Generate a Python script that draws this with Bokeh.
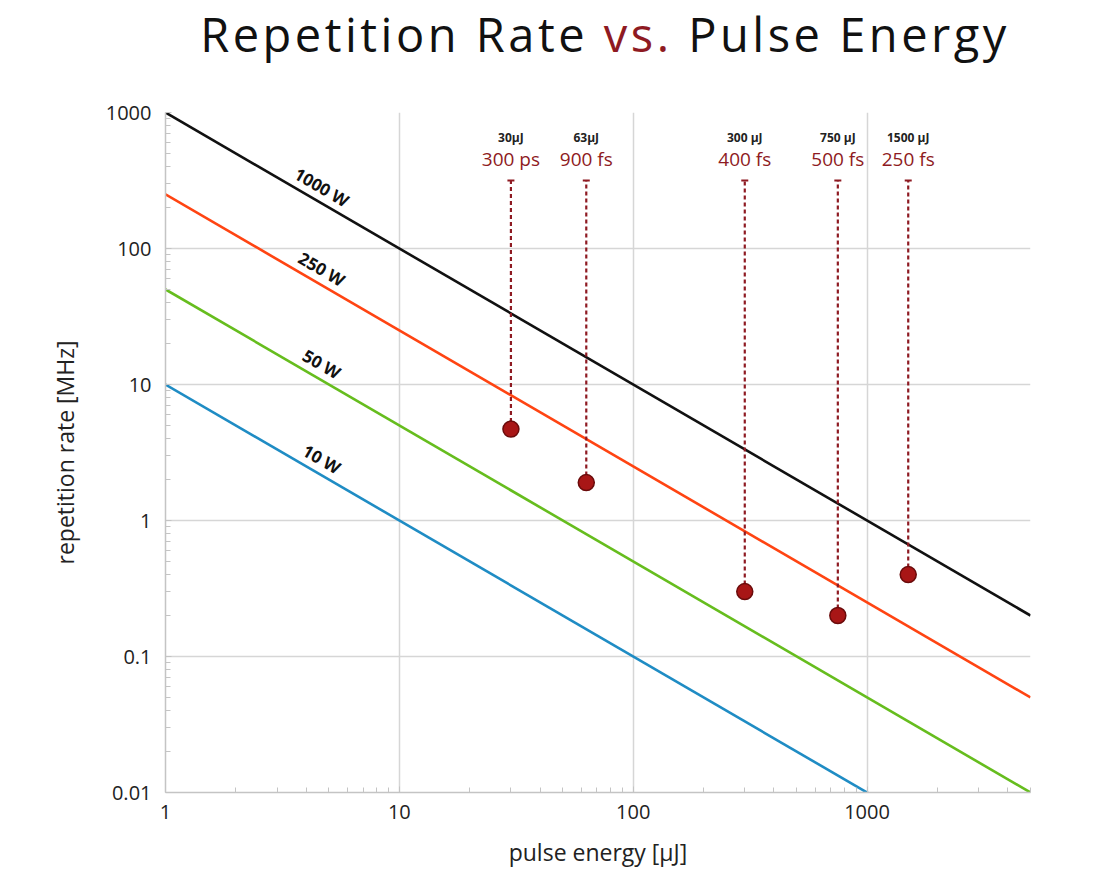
import numpy as np
from bokeh.plotting import figure
from bokeh.layouts import column
from bokeh.models import (ColumnDataSource, FixedTicker, CustomJSTickFormatter,
                          Div, Range1d)
from bokeh.core.properties import value
from bokeh.embed import file_html
from bokeh.resources import INLINE

# ---------------- data ----------------
powers = [1000, 250, 50, 10]                       # W  (line: rate = P / E)
power_labels = ["1000 W", "250 W", "50 W", "10 W"]
power_colors = ["#111111", "#ff4412", "#66bd1e", "#1f8cc4"]
energy_span = [1, 5000]                             # µJ

pulse_energy = [30, 63, 300, 750, 1500]             # µJ
rep_rate = [4.7, 1.9, 0.3, 0.2, 0.4]                # MHz
energy_text = ["30µJ", "63µJ", "300 µJ", "750 µJ", "1500 µJ"]
duration_text = ["300 ps", "900 fs", "400 fs", "500 fs", "250 fs"]

x_ticks = [1, 10, 100, 1000]
y_ticks = [0.01, 0.1, 1, 10, 100, 1000]

# ---------------- layout constants ----------------
W = 1100
DIV_H = 60             # plus 10px default widget margin
H = 800
BL, BR = 165, 70
BT = 112 - (DIV_H + 10)
BB = (DIV_H + 10 + H) - 792
LABEL_X = 4.4          # µJ position of the power labels
ARROW_TOP = 316        # MHz, top of the dashed drop lines
DARK_RED = "#8e1a22"
FONT = "Open Sans"

title = Div(
    text=('<div style="font-family:\'Open Sans\'; font-size:47px; '
          'letter-spacing:3.5px; color:#111; text-align:center; '
          'width:%dpx; line-height:56px; padding-top:1px; white-space:nowrap;">'
          'Repetition Rate <span style="color:%s">vs.</span> Pulse Energy'
          '</div>') % (W + 100, DARK_RED),
    width=W, height=DIV_H)

p = figure(width=W, height=H, x_axis_type="log", y_axis_type="log",
           x_range=Range1d(1, 5000), y_range=Range1d(0.01, 1000),
           output_backend="svg", toolbar_location=None,
           min_border_left=BL, min_border_right=BR,
           min_border_top=BT, min_border_bottom=BB)
p.background_fill_color = "white"
p.border_fill_color = "white"
p.outline_line_color = None

# grid
for g in (p.xgrid, p.ygrid):
    g.grid_line_color = "#d6d6d6"
    g.grid_line_width = 1.5
    g.minor_grid_line_color = None

def minor(ticks):
    out = []
    for t in ticks:
        for m in range(2, 10):
            out.append(t * m)
    return out

p.xaxis.ticker = FixedTicker(ticks=x_ticks, minor_ticks=minor(x_ticks))
p.yaxis.ticker = FixedTicker(ticks=y_ticks, minor_ticks=minor(y_ticks[:-1]))
p.xaxis.formatter = CustomJSTickFormatter(code="return tick.toString();")
p.yaxis.formatter = CustomJSTickFormatter(code="return tick.toString();")

for ax in (p.xaxis, p.yaxis):
    ax.axis_line_color = "#c4c4c4"
    ax.axis_line_width = 1.5
    ax.major_tick_line_color = "#c4c4c4"
    ax.major_tick_in = 6
    ax.major_tick_out = 0
    ax.minor_tick_line_color = "#c4c4c4"
    ax.minor_tick_in = 5
    ax.minor_tick_out = 0
    ax.major_label_text_font = FONT
    ax.major_label_text_font_size = "20px"
    ax.major_label_text_color = "#222222"
    ax.axis_label_text_font = FONT
    ax.axis_label_text_font_size = "23px"
    ax.axis_label_text_font_style = "normal"
    ax.axis_label_text_color = "#222222"

p.xaxis.axis_label = "pulse energy [µJ]"
p.yaxis.axis_label = "repetition rate [MHz]"
p.xaxis.major_label_standoff = 12
p.yaxis.major_label_standoff = 14
p.xaxis.axis_label_standoff = 14
p.yaxis.axis_label_standoff = 22

# power lines
for P, col in zip(powers, power_colors):
    p.line(energy_span, [P / e for e in energy_span], line_color=col,
           line_width=2.6)

# power labels, rotated along the lines
frame_w, frame_h = W - BL - BR, H - BT - BB
px_per_dec_x = frame_w / np.log10(5000 / 1)
px_per_dec_y = frame_h / np.log10(1000 / 0.01)
ang = -np.arctan(px_per_dec_y / px_per_dec_x)
lab_src = ColumnDataSource(dict(x=[LABEL_X] * len(powers),
                                y=[P / LABEL_X for P in powers],
                                t=power_labels))
p.text(x="x", y="y", text="t", source=lab_src, angle=ang,
       text_align="center", text_baseline="bottom", y_offset=-3,
       text_font=value(FONT), text_font_style="bold",
       text_font_size="17px", text_color="#111111")

# drop lines and points
src = ColumnDataSource(dict(x=pulse_energy, y=rep_rate,
                            top=[ARROW_TOP] * len(pulse_energy),
                            e=energy_text, d=duration_text))
p.segment(x0="x", y0="y", x1="x", y1="top", source=src,
          line_color=DARK_RED, line_width=2.2, line_dash="4 3")
p.scatter(x="x", y="top", source=src, marker="dash", size=7,
          line_color=DARK_RED, line_width=2)
p.scatter(x="x", y="y", source=src, marker="circle", size=16,
          fill_color="#a81616", line_color="#6a0b0b", line_width=1.5)
p.text(x="x", y="top", text="d", source=src, text_align="center",
       text_baseline="bottom", y_offset=-9, text_font=value(FONT),
       text_font_size="19px", text_color=DARK_RED)
p.text(x="x", y="top", text="e", source=src, text_align="center",
       text_baseline="bottom", y_offset=-35, text_font=value(FONT),
       text_font_style="bold", text_font_size="12px", text_color="#222222")

layout = column(title, p, spacing=0)
open("out.html", "w").write(file_html(layout, INLINE))
